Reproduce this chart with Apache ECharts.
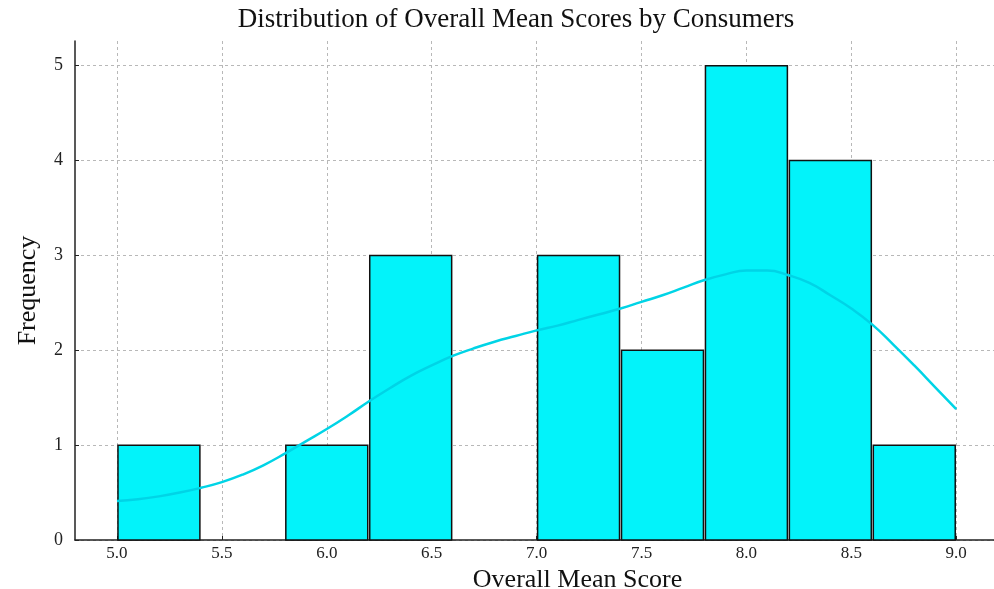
<!DOCTYPE html>
<html>
<head>
<meta charset="utf-8">
<script src="https://cdn.jsdelivr.net/npm/echarts@6/dist/echarts.min.js"></script>
<style>
  html, body { margin: 0; padding: 0; background: #fff; }
  #chart { width: 994px; height: 589px; }
</style>
</head>
<body>
<div id="chart"></div>
<script>
// histogram bins (width 0.4) and counts
const binStarts = [5.0, 5.4, 5.8, 6.2, 6.6, 7.0, 7.4, 7.8, 8.2, 8.6];
const binWidth = 0.4;
const counts = [1, 0, 1, 3, 0, 3, 2, 5, 4, 1];

// kde curve
const kdeX = [5.0, 5.1, 5.2, 5.3, 5.4, 5.5, 5.6, 5.7, 5.8, 5.9, 6.0, 6.1, 6.2, 6.3, 6.4, 6.5, 6.6, 6.7, 6.8, 6.9, 7.0,
              7.1, 7.2, 7.3, 7.4, 7.5, 7.6, 7.7, 7.8, 7.9, 8.0, 8.1, 8.2, 8.3, 8.4, 8.5, 8.6, 8.7, 8.8, 8.9, 9.0];
const kdeY = [0.41, 0.43, 0.46, 0.50, 0.55, 0.61, 0.69, 0.79, 0.91, 1.04, 1.17, 1.31, 1.46, 1.60, 1.73, 1.84, 1.94, 2.02, 2.09, 2.15, 2.21,
              2.26, 2.32, 2.38, 2.44, 2.51, 2.58, 2.66, 2.74, 2.80, 2.84, 2.84, 2.79, 2.71, 2.58, 2.44, 2.27, 2.06, 1.84, 1.61, 1.38];

const xTicks = [5.0, 5.5, 6.0, 6.5, 7.0, 7.5, 8.0, 8.5, 9.0];
const yTicks = [0, 1, 2, 3, 4, 5];

const font = 'Liberation Serif';

let chart = echarts.init(document.getElementById('chart'));

const barData = binStarts.map((s, i) => [s, s + binWidth, counts[i]]);
const kdeData = kdeX.map((x, i) => [x, kdeY[i]]);

chart.setOption({
  animation: false,
  textStyle: { fontFamily: font },
  title: {
    text: 'Distribution of Overall Mean Scores by Consumers',
    left: 511,
    top: 1,
    textAlign: 'center',
    textStyle: { fontFamily: font, fontSize: 27, fontWeight: 'normal', color: '#111' }
  },
  grid: { left: 75, right: 0, top: 41, bottom: 49, outerBoundsMode: 'none', containLabel: false },
  xAxis: {
    type: 'value',
    min: 4.8,
    max: 9.18,
    name: 'Overall Mean Score',
    nameLocation: 'middle',
    nameGap: 25,
    nameTextStyle: { fontFamily: font, fontSize: 26, color: '#111', padding: [0, 0, 0, 86] },
    axisLine: { lineStyle: { color: '#222', width: 1.5 } },
    axisTick: { inside: true, length: 4, customValues: xTicks, lineStyle: { color: '#222' } },
    axisLabel: {
      customValues: xTicks,
      formatter: v => v.toFixed(1),
      fontFamily: font, fontSize: 17, color: '#222', margin: 5
    },
    splitLine: { show: true, lineStyle: { color: '#b8b8b8', type: [3, 3], width: 1 } }
  },
  yAxis: {
    type: 'value',
    min: 0,
    max: 5.26,
    name: 'Frequency',
    nameLocation: 'middle',
    nameGap: 34,
    nameTextStyle: { fontFamily: font, fontSize: 26, color: '#111' },
    axisLine: { show: true, lineStyle: { color: '#222', width: 1.5 } },
    axisTick: { show: true, inside: true, length: 4, customValues: yTicks, lineStyle: { color: '#222' } },
    axisLabel: { customValues: yTicks, fontFamily: font, fontSize: 18, color: '#222', margin: 12 },
    splitLine: { show: true, lineStyle: { color: '#b8b8b8', type: [3, 3], width: 1 } }
  },
  series: [
    {
      type: 'custom',
      data: barData,
      encode: { x: [0, 1], y: 2 },
      renderItem: function (params, api) {
        const c = api.value(2);
        if (!c) return null;
        const p0 = api.coord([api.value(0), c]);
        const p1 = api.coord([api.value(1), 0]);
        return {
          type: 'rect',
          shape: { x: p0[0] + 1, y: p0[1], width: p1[0] - p0[0] - 2, height: p1[1] - p0[1] },
          style: { fill: '#02F3FA', stroke: '#111', lineWidth: 1.5 }
        };
      },
      z: 2
    },
    {
      type: 'line',
      data: kdeData,
      smooth: true,
      showSymbol: false,
      lineStyle: { color: '#00D4E6', width: 2.5 },
      z: 3
    }
  ]
});
</script>
</body>
</html>
